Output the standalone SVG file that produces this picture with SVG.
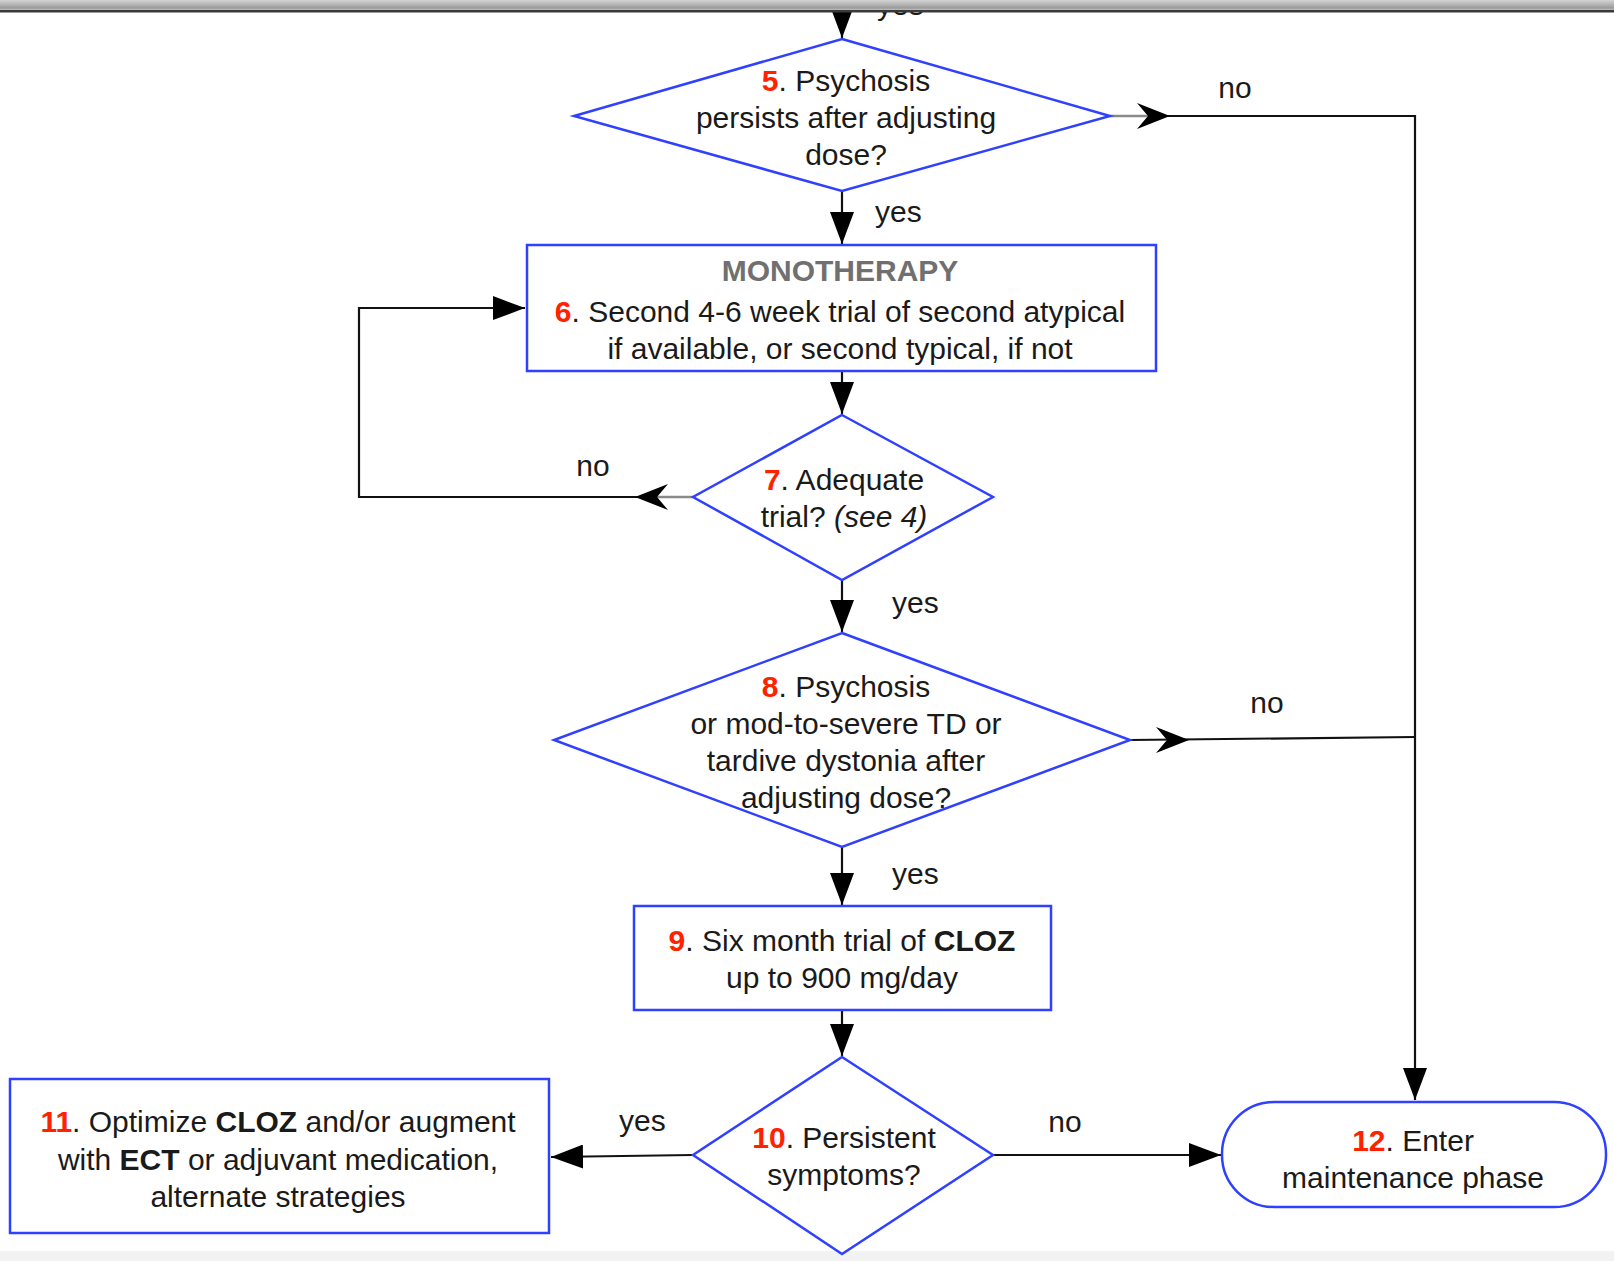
<svg xmlns="http://www.w3.org/2000/svg" xmlns:xlink="http://www.w3.org/1999/xlink" width="1614" height="1261" viewBox="0 0 1614 1261">
<style>
.node{fill:#ffffff;stroke:#3040ff;stroke-width:2.5}
.t{font-family:"Liberation Sans",Arial,Helvetica,sans-serif;font-size:30px;fill:#1a1a1a;text-anchor:middle}
.lbl{font-family:"Liberation Sans",Arial,Helvetica,sans-serif;font-size:30px;fill:#1a1a1a}
.n{fill:#ff2200;font-weight:bold}
.b{font-weight:bold}
.mono{font-weight:bold;fill:#707070}
.c{fill:none;stroke:#111111;stroke-width:2.2}
.g{fill:none;stroke:#8a8a8a;stroke-width:2.6}
.ah{fill:#000000}
</style>
<defs>
<marker id="arr" markerUnits="userSpaceOnUse" markerWidth="32" markerHeight="24" refX="32" refY="12" orient="auto">
<path d="M0,0 L32,12 L0,24 Z" fill="#000000"/>
</marker>
<path id="chev" d="M0,0 L-33,-13 L-22,0 L-33,13 Z"/>
<linearGradient id="bar" x1="0" y1="0" x2="0" y2="1">
<stop offset="0" stop-color="#d4d4d4"/>
<stop offset="0.4" stop-color="#b8b8b8"/>
<stop offset="0.8" stop-color="#9a9a9a"/>
<stop offset="1" stop-color="#c0c0c0"/>
</linearGradient>
</defs>
<rect x="0" y="0" width="1614" height="1261" fill="#ffffff"/>
<rect x="0" y="1251" width="1614" height="10" fill="#f2f2f2"/>

<g id="connectors">
<line class="c" x1="842" y1="0" x2="842" y2="38" marker-end="url(#arr)"/>
<line class="c" x1="842" y1="191" x2="842" y2="244" marker-end="url(#arr)"/>
<line class="c" x1="842" y1="371" x2="842" y2="414" marker-end="url(#arr)"/>
<line class="c" x1="842" y1="580" x2="842" y2="632" marker-end="url(#arr)"/>
<line class="c" x1="842" y1="847" x2="842" y2="905" marker-end="url(#arr)"/>
<line class="c" x1="842" y1="1010" x2="842" y2="1056" marker-end="url(#arr)"/>
<line class="c" x1="693" y1="1155" x2="551" y2="1157" marker-end="url(#arr)"/>
<line class="c" x1="993" y1="1155" x2="1221" y2="1155" marker-end="url(#arr)"/>
<line class="g" x1="1110" y1="116" x2="1150" y2="116"/>
<polyline class="c" points="1150,116 1415,116 1415,1100" marker-end="url(#arr)"/>
<use xlink:href="#chev" href="#chev" class="ah" transform="translate(1170,116)"/>
<line class="c" x1="1130" y1="740" x2="1415" y2="737"/>
<use xlink:href="#chev" href="#chev" class="ah" transform="translate(1189,740)"/>
<line class="g" x1="693" y1="497" x2="655" y2="497"/>
<polyline class="c" points="655,497 359,497 359,308 525,308" marker-end="url(#arr)"/>
<use xlink:href="#chev" href="#chev" class="ah" transform="translate(635,497) rotate(180)"/>
<text class="lbl" x="877" y="15">yes</text>
<text class="lbl" x="875" y="222">yes</text>
<text class="lbl" x="1235" y="98" text-anchor="middle">no</text>
<text class="lbl" x="593" y="476" text-anchor="middle">no</text>
<text class="lbl" x="892" y="613">yes</text>
<text class="lbl" x="1267" y="713" text-anchor="middle">no</text>
<text class="lbl" x="892" y="884">yes</text>
<text class="lbl" x="619" y="1131">yes</text>
<text class="lbl" x="1065" y="1132" text-anchor="middle">no</text>
</g>

<g id="node5">
<polygon class="node" points="842,39 1110,116 842,191 574,116"/>
<text class="t" x="846" y="91"><tspan class="n">5</tspan>. Psychosis</text>
<text class="t" x="846" y="128">persists after adjusting</text>
<text class="t" x="846" y="165">dose?</text>
</g>

<g id="node6">
<rect class="node" x="527" y="245" width="629" height="126"/>
<text class="t mono" x="840" y="281">MONOTHERAPY</text>
<text class="t" x="840" y="322"><tspan class="n">6</tspan>. Second 4-6 week trial of second atypical</text>
<text class="t" x="840" y="359">if available, or second typical, if not</text>
</g>

<g id="node7">
<polygon class="node" points="842,415 993,497 842,580 693,497"/>
<text class="t" x="844" y="490"><tspan class="n">7</tspan>. Adequate</text>
<text class="t" x="844" y="527">trial? <tspan font-style="italic">(see 4)</tspan></text>
</g>

<g id="node8">
<polygon class="node" points="842,633 1130,740 842,847 554,740"/>
<text class="t" x="846" y="697"><tspan class="n">8</tspan>. Psychosis</text>
<text class="t" x="846" y="734">or mod-to-severe TD or</text>
<text class="t" x="846" y="771">tardive dystonia after</text>
<text class="t" x="846" y="808">adjusting dose?</text>
</g>

<g id="node9">
<rect class="node" x="634" y="906" width="417" height="104"/>
<text class="t" x="842" y="951"><tspan class="n">9</tspan>. Six month trial of <tspan class="b">CLOZ</tspan></text>
<text class="t" x="842" y="988">up to 900 mg/day</text>
</g>

<g id="node10">
<polygon class="node" points="842,1057 993,1155 842,1254 693,1155"/>
<text class="t" x="844" y="1148"><tspan class="n">10</tspan>. Persistent</text>
<text class="t" x="844" y="1185">symptoms?</text>
</g>

<g id="node11">
<rect class="node" x="10" y="1079" width="539" height="154"/>
<text class="t" x="278" y="1132"><tspan class="n">11</tspan>. Optimize <tspan class="b">CLOZ</tspan> and/or augment</text>
<text class="t" x="278" y="1170">with <tspan class="b">ECT</tspan> or adjuvant medication,</text>
<text class="t" x="278" y="1207">alternate strategies</text>
</g>

<g id="node12">
<rect class="node" x="1222" y="1102" width="384" height="105" rx="52" ry="52"/>
<text class="t" x="1413" y="1151"><tspan class="n">12</tspan>. Enter</text>
<text class="t" x="1413" y="1188">maintenance phase</text>
</g>

<rect x="0" y="0" width="1614" height="10" fill="url(#bar)"/>
<rect x="0" y="10" width="1614" height="2.5" fill="#3a3a3a"/>
</svg>
